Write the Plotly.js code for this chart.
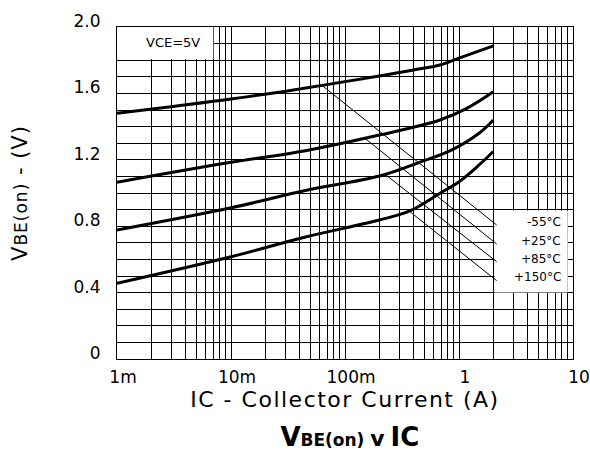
<!DOCTYPE html>
<html>
<head>
<meta charset="utf-8">
<script src="https://cdn.plot.ly/plotly-3.0.1.min.js"></script>
<style>
html, body { margin: 0; padding: 0; background: #fff; }
#chart { width: 590px; height: 451px; }
.xtitle { letter-spacing: 1.5px; }
.ytitle { letter-spacing: 1px; }
</style>
</head>
<body>
<div id="chart"></div>
<script>
// ---- data ----
const ic_n55 = [0.001, 0.01, 0.04, 0.2, 0.4, 0.68, 1.0, 2.0];
const vbe_n55 = [1.48, 1.566, 1.627, 1.705, 1.741, 1.771, 1.813, 1.886];

const ic_p25 = [0.001, 0.01, 0.045, 0.2, 0.68, 1.17, 2.0];
const vbe_p25 = [1.065, 1.185, 1.255, 1.349, 1.44, 1.51, 1.61];

const ic_p85 = [0.001, 0.01, 0.045, 0.2, 0.45, 0.84, 1.5, 2.0];
const vbe_p85 = [0.777, 0.911, 1.015, 1.102, 1.185, 1.255, 1.36, 1.44];

const ic_p150 = [0.001, 0.01, 0.045, 0.2, 0.37, 0.68, 1.0, 1.5, 2.0];
const vbe_p150 = [0.456, 0.616, 0.735, 0.837, 0.892, 0.998, 1.068, 1.169, 1.25];

// leader lines from each curve to its label
const tempLabels = ['-55°C', '+25°C', '+85°C', '+150°C'];
const leaderStartI = [0.0637, 0.150, 0.229, 0.372];
const leaderStartV = [1.645, 1.329, 1.108, 0.887];
const leaderEndI = [2.14, 2.14, 2.14, 2.14];
const leaderEndV = [0.807, 0.693, 0.586, 0.472];
const labelI = [8.13, 8.13, 8.13, 8.13];
const labelV = [0.823, 0.713, 0.602, 0.492];

const conditionText = 'VCE=5V';
const conditionI = 0.0031;
const conditionV = 1.905;

// axis ticks
const xTickVals = [0.001,0.002,0.003,0.004,0.005,0.006,0.007,0.008,0.009,
                   0.01,0.02,0.03,0.04,0.05,0.06,0.07,0.08,0.09,
                   0.1,0.2,0.3,0.4,0.5,0.6,0.7,0.8,0.9,
                   1,2,3,4,5,6,7,8,9,10];
const xTickText = ['1m','','','','','','','','',
                   '10m','','','','','','','','',
                   '100m','','','','','','','','',
                   '1','','','','','','','','',
                   '10'];
const yTickVals = [0,0.1,0.2,0.3,0.4,0.5,0.6,0.7,0.8,0.9,1.0,1.1,1.2,1.3,1.4,1.5,1.6,1.7,1.8,1.9,2.0];
const yTickText = ['0','','','','0.4','','','','0.8','','','','1.2','','','','1.6','','','','2.0'];

// ---- traces ----
const curveStyle = {color: '#000', width: 3, shape: 'spline', smoothing: 1};
const traces = [
  {x: ic_n55, y: vbe_n55, name: '-55°C'},
  {x: ic_p25, y: vbe_p25, name: '+25°C'},
  {x: ic_p85, y: vbe_p85, name: '+85°C'},
  {x: ic_p150, y: vbe_p150, name: '+150°C'}
].map(t => Object.assign(t, {type: 'scatter', mode: 'lines', line: curveStyle, hoverinfo: 'skip'}));

for (let i = 0; i < tempLabels.length; i++) {
  traces.push({
    type: 'scatter', mode: 'lines', name: tempLabels[i] + ' leader',
    x: [leaderStartI[i], leaderEndI[i]],
    y: [leaderStartV[i], leaderEndV[i]],
    line: {color: '#000', width: 1}, hoverinfo: 'skip'
  });
}

const annotations = tempLabels.map((t, i) => ({
  x: Math.log10(labelI[i]), y: labelV[i], xref: 'x', yref: 'y',
  text: t, showarrow: false, xanchor: 'right', yanchor: 'middle',
  font: {family: 'DejaVu Sans', size: 12, color: '#000'}
}));
annotations.push({
  x: Math.log10(conditionI), y: conditionV, xref: 'x', yref: 'y',
  text: conditionText, showarrow: false, xanchor: 'center', yanchor: 'middle',
  font: {family: 'DejaVu Sans', size: 13, color: '#000'}
});

const gridColor = '#000';
const layout = {
  width: 590, height: 451,
  margin: {l: 117, r: 17, t: 27, b: 92},
  paper_bgcolor: '#fff', plot_bgcolor: '#fff',
  showlegend: false,
  font: {family: 'DejaVu Sans', color: '#000', size: 17},
  title: {
    text: '<b>V<span style="font-size:17px">BE(on) </span><span style="font-size:22px">v</span><span style="font-size:17px"> </span>IC</b>',
    font: {family: 'DejaVu Sans', size: 26, color: '#000'},
    x: 0.593, xanchor: 'center', y: 0.031, yanchor: 'middle'
  },
  xaxis: {
    type: 'log', range: [-3, 1],
    tickmode: 'array', tickvals: xTickVals, ticktext: xTickText,
    ticks: '', showgrid: true, gridcolor: gridColor, gridwidth: 1,
    showline: true, mirror: true, linecolor: '#000', linewidth: 1,
    zeroline: false, ticklabelstandoff: 3, ticklabelshift: 6,
    tickfont: {family: 'DejaVu Sans', size: 17, color: '#000'},
    title: {text: 'IC - Collector Current (A)', standoff: 3,
            font: {family: 'DejaVu Sans', size: 22, color: '#000'}}
  },
  yaxis: {
    range: [0, 2],
    tickmode: 'array', tickvals: yTickVals, ticktext: yTickText,
    ticks: '', showgrid: true, gridcolor: gridColor, gridwidth: 1,
    showline: true, mirror: true, linecolor: '#000', linewidth: 1,
    zeroline: false, ticklabelstandoff: 12, ticklabelshift: -6,
    tickfont: {family: 'DejaVu Sans', size: 17, color: '#000'},
    title: {text: 'V<span style="font-size:17px">BE(on)</span> - (V)', standoff: 40,
            font: {family: 'DejaVu Sans', size: 21, color: '#000'}}
  },
  shapes: [
    {type: 'rect', xref: 'x', yref: 'y', layer: 'between',
     x0: 0.001, x1: 0.007, y0: 1.805, y1: 2.0,
     fillcolor: '#fff', line: {width: 0}},
    {type: 'rect', xref: 'x', yref: 'y', layer: 'between',
     x0: 2.05, x1: 9, y0: 0.4, y1: 0.895,
     fillcolor: '#fff', line: {width: 0}}
  ],
  annotations: annotations
};

Plotly.newPlot('chart', traces, layout, {displayModeBar: false, staticPlot: true});
</script>
</body>
</html>
